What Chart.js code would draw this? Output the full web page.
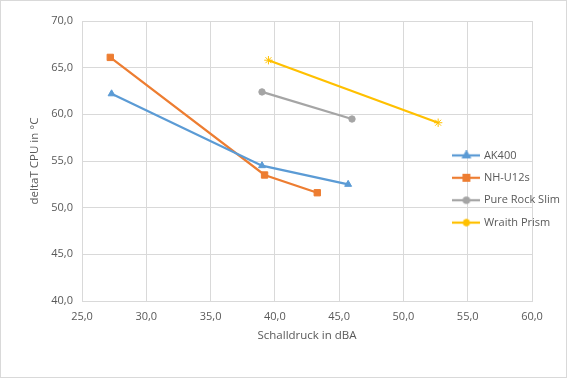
<!DOCTYPE html>
<html>
<head>
<meta charset="utf-8">
<script src="https://cdn.jsdelivr.net/npm/chart.js@4"></script>
<style>
  html, body { margin: 0; padding: 0; background: #fff; }
  #wrap { width: 567px; height: 378px; box-sizing: border-box; border: 1px solid #d9d9d9; position: relative; }
</style>
</head>
<body>
<div id="wrap"><canvas id="chart"></canvas></div>
<script>
// Schalldruck (dBA) und deltaT (°C) je Kühler
const coolerNames = ["AK400", "NH-U12s", "Pure Rock Slim", "Wraith Prism"];
const akSound = [27.3, 39.0, 45.7];
const akTemp = [62.2, 54.5, 52.5];
const nhSound = [27.2, 39.2, 43.3];
const nhTemp = [66.1, 53.5, 51.6];
const prsSound = [39.0, 46.0];
const prsTemp = [62.4, 59.5];
const wpSound = [39.5, 52.7];
const wpTemp = [65.8, 59.1];

const colors = ["#5B9BD5", "#ED7D31", "#A5A5A5", "#FFC000"];
const markers = ["triangle", "rect", "circle", "star"];
const radii = [4, 4.5, 3.2, 4.2];

const textColor = "#595959";
const gridColor = "#d9d9d9";
const fontFamily = "'Open Sans', 'DejaVu Sans', sans-serif";

function toPoints(xs, ys) {
  return xs.map((x, i) => ({ x: x, y: ys[i] }));
}

const series = [
  toPoints(akSound, akTemp),
  toPoints(nhSound, nhTemp),
  toPoints(prsSound, prsTemp),
  toPoints(wpSound, wpTemp)
];

// small line + marker picture for each legend entry
function legendIcon(i) {
  const c = document.createElement("canvas");
  c.width = 28;
  c.height = 10;
  const ctx = c.getContext("2d");
  ctx.strokeStyle = colors[i];
  ctx.fillStyle = colors[i];
  ctx.lineWidth = 2.25;
  ctx.beginPath();
  ctx.moveTo(0, 5);
  ctx.lineTo(28, 5);
  ctx.stroke();
  Chart.helpers.drawPoint(ctx, {
    pointStyle: markers[i],
    radius: radii[i] - 0.5,
    rotation: 0,
    borderWidth: 1
  }, 14, 5);
  return c;
}

const datasets = series.map((pts, i) => ({
  label: coolerNames[i],
  data: pts,
  showLine: true,
  borderColor: colors[i],
  backgroundColor: colors[i],
  borderWidth: 2.25,
  pointStyle: markers[i],
  pointRadius: radii[i],
  pointHoverRadius: radii[i],
  pointBorderWidth: 1
}));

const legendPlace = {
  id: "legendPlace",
  afterLayout(chart) {
    const lg = chart.legend;
    lg.left = 442;
    lg.top = 137.5;
    lg.right = 566;
    lg.bottom = 262;
    lg.width = lg.right - lg.left;
    lg.height = lg.bottom - lg.top;
  }
};

const fmt = v => v.toFixed(1).replace(".", ",");

new Chart(document.getElementById("chart"), {
  type: "scatter",
  data: { datasets: datasets },
  plugins: [legendPlace],
  options: {
    responsive: true,
    maintainAspectRatio: false,
    animation: false,
    layout: { padding: { top: 20, right: 34, left: 22, bottom: 30 } },
    plugins: {
      tooltip: { enabled: false },
      legend: {
        position: "chartArea",
        align: "start",
        labels: {
          color: textColor,
          font: { family: fontFamily, size: 11 },
          usePointStyle: true,
          pointStyleWidth: 24,
          padding: 11.4,
          generateLabels(chart) {
            return chart.data.datasets.map((ds, i) => ({
              text: ds.label,
              fontColor: textColor,
              pointStyle: legendIcon(i),
              datasetIndex: i,
              lineWidth: 0,
              hidden: false
            }));
          }
        }
      }
    },
    scales: {
      x: {
        type: "linear",
        min: 25,
        max: 60,
        ticks: { stepSize: 5, color: textColor, font: { family: fontFamily, size: 11 }, callback: fmt, padding: 9.5 },
        grid: { color: gridColor, drawTicks: false },
        border: { color: gridColor },
        title: { display: true, text: "Schalldruck in dBA", color: textColor, font: { family: fontFamily, size: 11.5 }, padding: { top: 0, bottom: 4 } },
        afterFit(scale) { scale.height = 46; }
      },
      y: {
        min: 40,
        max: 70,
        ticks: { stepSize: 5, color: textColor, font: { family: fontFamily, size: 11 }, callback: fmt, padding: 9 },
        grid: { color: gridColor, drawTicks: false },
        border: { color: gridColor },
        title: { display: true, text: "deltaT CPU in °C", color: textColor, font: { family: fontFamily, size: 11.5 }, padding: { top: 5, bottom: 0 } },
        afterFit(scale) { scale.width = 59; }
      }
    }
  }
});
</script>
</body>
</html>
